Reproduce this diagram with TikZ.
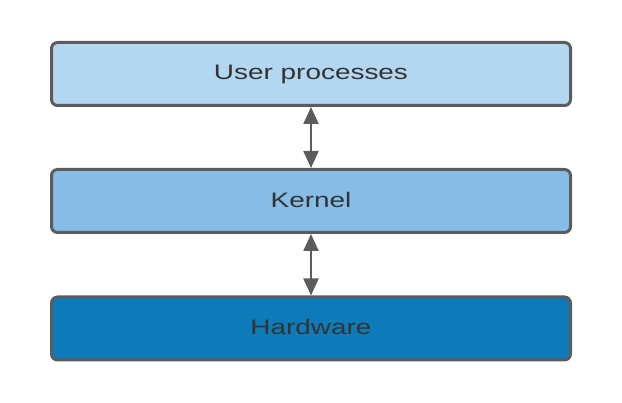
\documentclass[tikz,border=0pt]{standalone}
\usepackage{fontspec}
\setmainfont{Liberation Sans}
\usetikzlibrary{arrows.meta}
\definecolor{topfill}{HTML}{B3D7F0}
\definecolor{midfill}{HTML}{86BCE5}
\definecolor{lowfill}{HTML}{0D7BBA}
\definecolor{edge}{HTML}{5C5C5C}
\definecolor{txt}{HTML}{333333}
\tikzset{
  layer/.style={draw=edge, line width=3pt, rounded corners=6pt,
    minimum width=519pt, minimum height=63pt, inner sep=0pt,
    text=txt, font=\fontsize{21pt}{24pt}\selectfont},
  link/.style={draw=edge, line width=2.3pt,
    {Triangle[width=15pt,length=17pt]}-{Triangle[width=15pt,length=17pt]}}
}
\newcommand{\wide}[1]{\raisebox{2.5pt}{\scalebox{1.33}[1]{#1}}}
\begin{document}
\begin{tikzpicture}[x=1pt,y=-1pt]
\useasboundingbox (0,0) rectangle (622,403);
\node[layer, fill=topfill] (user) at (311,74) {\wide{User processes}};
\node[layer, fill=midfill] (kernel) at (311,201) {\wide{Kernel}};
\node[layer, fill=lowfill] (hw) at (311,328.5) {\wide{Hardware}};
\draw[link] (user.south) -- (kernel.north);
\draw[link] (kernel.south) -- (hw.north);
\end{tikzpicture}
\end{document}
